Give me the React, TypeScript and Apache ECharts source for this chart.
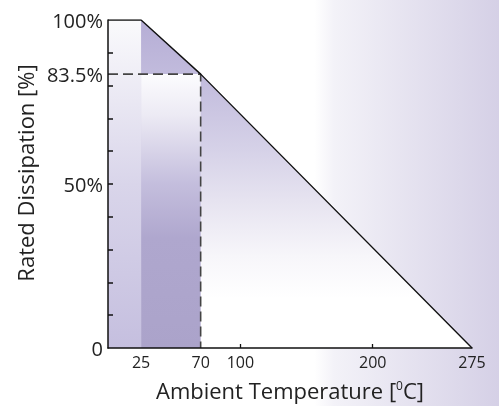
import React, { useEffect, useRef } from "react";
import * as echarts from "echarts";

const xLabelValues = [25, 70, 100, 200, 275];
const xTickValues = [100, 200];
const yLabelValues = [0, 50, 83.5, 100];
const yTickValues = [10, 20, 30, 40, 50, 60, 70, 80, 90];

// derating curve (ambient temperature °C, rated dissipation %)
const curve: [number, number][] = [
  [0, 100],
  [25, 100],
  [70, 83.5],
  [275, 0],
];
const ratedZone: [number, number][] = [
  [0, 100],
  [25, 100],
];
const slopeZone: [number, number][] = [
  [25, 100],
  [70, 83.5],
  [275, 0],
];
const markPoint: [number, number] = [70, 83.5];
const markZone: [number, number][] = [
  [25, 83.5],
  [70, 83.5],
];

const FONT = "Open Sans";

const grad = (stops: [number, string][]) =>
  new echarts.graphic.LinearGradient(
    0,
    0,
    0,
    1,
    stops.map(([offset, color]) => ({ offset, color }))
  );

export default function App() {
  const ref = useRef<HTMLDivElement>(null);
  useEffect(() => {
    if (!ref.current) return;
    const chart = echarts.init(ref.current, null, { renderer: "svg" });
    const dashed: [number, number][] = [
      [0, markPoint[1]],
      markPoint,
      [markPoint[0], 0],
    ];
    chart.setOption({
      animation: false,
      graphic: [
        {
          type: "rect",
          z: -10,
          silent: true,
          shape: { x: 0, y: 0, width: 499, height: 406 },
          style: {
            fill: new echarts.graphic.LinearGradient(0, 0, 1, 0, [
              { offset: 0, color: "#ffffff" },
              { offset: 0.63, color: "#ffffff" },
              { offset: 0.67, color: "#f3f2f8" },
              { offset: 1, color: "#d5d0e6" },
            ]),
          },
        },
      ],
      grid: { left: 108, right: 27, top: 20, bottom: 58 },
      xAxis: {
        type: "value",
        min: 0,
        max: 275,
        z: 10,
        name: "{a|Ambient Temperature [}{sup|0}{a|C]}",
        nameLocation: "middle",
        nameGap: 30,
        nameTextStyle: {
          rich: {
            a: { fontFamily: FONT, fontSize: 22, color: "#222", lineHeight: 24 },
            sup: {
              fontFamily: FONT,
              fontSize: 12,
              color: "#222",
              lineHeight: 24,
              padding: [0, 0, 10, 0],
            },
          },
        },
        splitLine: { show: false },
        axisLine: { lineStyle: { color: "#111", width: 1.5 } },
        axisTick: {
          inside: true,
          length: 4,
          customValues: xTickValues,
          lineStyle: { color: "#111", width: 1.3 },
        },
        axisLabel: {
          customValues: xLabelValues,
          fontFamily: FONT,
          fontSize: 16,
          color: "#222",
          margin: 6,
        },
      },
      yAxis: {
        type: "value",
        min: 0,
        max: 100,
        z: 10,
        name: "Rated Dissipation [%]",
        nameLocation: "middle",
        nameGap: 70,
        nameTextStyle: {
          fontFamily: FONT,
          fontSize: 22,
          color: "#222",
          padding: [0, 0, 0, 22],
        },
        splitLine: { show: false },
        axisLine: { lineStyle: { color: "#111", width: 1.5 } },
        axisTick: {
          inside: true,
          length: 5,
          customValues: yTickValues,
          lineStyle: { color: "#111", width: 1.5 },
        },
        axisLabel: {
          customValues: yLabelValues,
          fontFamily: FONT,
          fontSize: 20,
          color: "#222",
          margin: 5,
          formatter: (v: number) => (v === 0 ? "0" : v + "%"),
        },
      },
      series: [
        {
          type: "line",
          data: ratedZone,
          symbol: "none",
          lineStyle: { width: 0 },
          areaStyle: {
            opacity: 1,
            color: grad([
              [0, "#fafafc"],
              [0.5, "#d9d5ea"],
              [1, "#c5bfdf"],
            ]),
          },
          silent: true,
        },
        {
          type: "line",
          data: slopeZone,
          symbol: "none",
          lineStyle: { width: 0 },
          areaStyle: {
            opacity: 1,
            color: grad([
              [0, "#b5add5"],
              [0.2, "#c4bede"],
              [0.4, "#d6d2e8"],
              [0.55, "#e6e3f0"],
              [0.72, "#f7f6fa"],
              [0.85, "#ffffff"],
              [1, "#ffffff"],
            ]),
          },
          silent: true,
        },
        {
          type: "line",
          data: markZone,
          symbol: "none",
          lineStyle: { width: 0 },
          areaStyle: {
            opacity: 1,
            color: grad([
              [0, "#fcfcfe"],
              [0.15, "#eceaf4"],
              [0.4, "#c4bedd"],
              [0.6, "#afa7ce"],
              [1, "#aba3ca"],
            ]),
          },
          silent: true,
        },
        {
          type: "line",
          data: dashed,
          symbol: "none",
          lineStyle: { color: "#444", width: 1.6, type: [10, 5] },
          silent: true,
        },
        {
          type: "line",
          data: curve,
          symbol: "none",
          lineStyle: { color: "#111", width: 1.4 },
          silent: true,
        },
      ],
    });
    return () => chart.dispose();
  }, []);
  return (
    <div
      ref={ref}
      style={{ position: "fixed", left: 0, top: 0, width: 499, height: 406 }}
    />
  );
}
